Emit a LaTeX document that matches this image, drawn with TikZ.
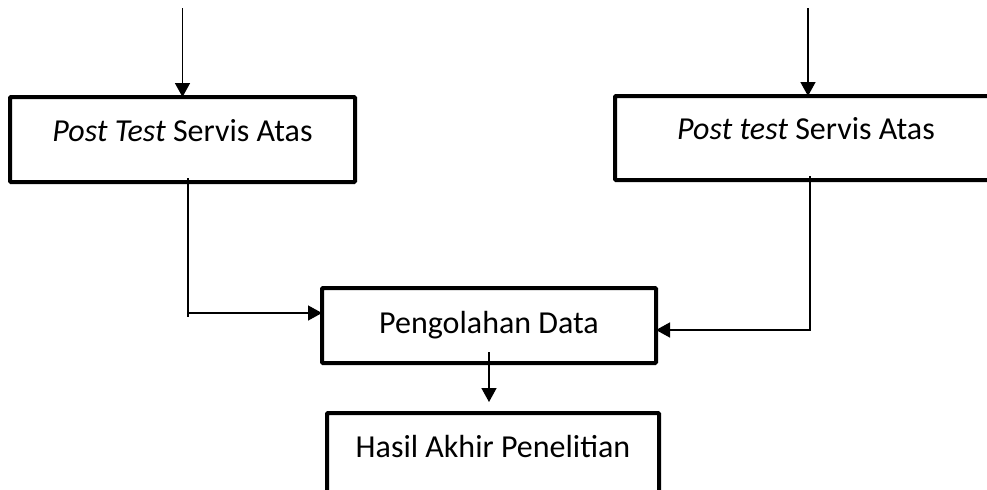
\documentclass[tikz,border=0pt]{standalone}
\usepackage{fontspec}
\setmainfont{Carlito}
\usetikzlibrary{arrows.meta}
\tikzset{
  box/.style={draw,line width=2pt,rounded corners=0.5pt,outer sep=0pt,text height=1.7ex,text depth=1.3ex,font=\fontsize{16}{20}\selectfont},
  conn/.style={line width=0.75pt},
  arr/.style={conn,-{Triangle[length=7pt,width=7.5pt]}}
}
\begin{document}
\begin{tikzpicture}[x=0.5pt,y=-0.5pt]
\clip (0,0) rectangle (987,489);
\node[box,minimum width=172.5pt,minimum height=42.5pt](post1) at (182.5,139.5){\textit{Post Test} Servis Atas};
\node[box,minimum width=191pt,minimum height=42pt](post2) at (806,138){\textit{Post test} Servis Atas};
\node[box,minimum width=167pt,minimum height=37.5pt,text height=,text depth=](olah) at (489,325.5){Pengolahan Data};
\node[box,minimum width=166pt,minimum height=42.5pt](hasil) at (493,455.5){Hasil Akhir Penelitian};
\coordinate(in1) at (182.5,8);
\coordinate(in2) at (808,8);
\coordinate(k1) at ([shift={(2.75pt,2pt)}]post1.south);
\coordinate(k2) at ([yshift=6.25pt]olah.west);
\draw[arr](in1)--(post1.north);
\draw[arr](in2)--(in2|-post2.north);
\draw[arr](k1)|-(k2);
\draw[conn](k1|-k2)--++(0,4);
\draw[arr]([shift={(2pt,2pt)}]post2.south)|-([yshift=-2.25pt]olah.east);
\draw[arr]([yshift=5.5pt]olah.south)--([yshift=5.5pt]olah.south|-hasil.north);
\end{tikzpicture}
\end{document}
